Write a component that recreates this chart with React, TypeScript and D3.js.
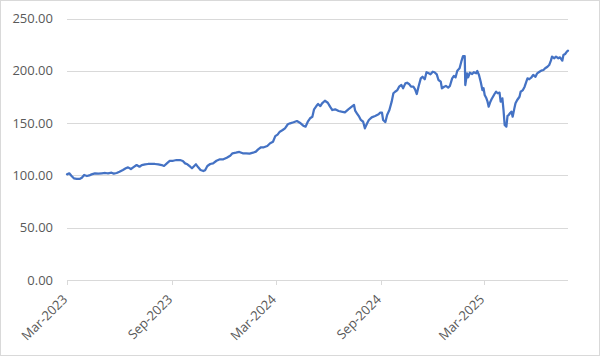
import React from "react";
import * as d3 from "d3";

const dates: string[] = [
  "2023-03-01","2023-03-05","2023-03-09","2023-03-13","2023-03-18","2023-03-23","2023-03-27","2023-03-31",
  "2023-04-05","2023-04-09","2023-04-13","2023-04-19","2023-04-25","2023-05-01","2023-05-07","2023-05-12",
  "2023-05-18","2023-05-22","2023-05-27","2023-06-01","2023-06-07","2023-06-12","2023-06-16","2023-06-21",
  "2023-06-25","2023-07-01","2023-07-06","2023-07-10","2023-07-16","2023-07-21","2023-07-27","2023-08-02",
  "2023-08-08","2023-08-14","2023-08-18","2023-08-23","2023-08-28","2023-09-03","2023-09-09","2023-09-15",
  "2023-09-20","2023-09-24","2023-09-28","2023-10-03","2023-10-06","2023-10-10","2023-10-13","2023-10-17",
  "2023-10-21","2023-10-26","2023-10-29","2023-11-02","2023-11-07","2023-11-12","2023-11-18","2023-11-24",
  "2023-11-30","2023-12-06","2023-12-12","2023-12-16","2023-12-22","2023-12-28","2024-01-03","2024-01-09",
  "2024-01-15","2024-01-21","2024-01-26","2024-01-30","2024-02-04","2024-02-09","2024-02-15","2024-02-20",
  "2024-02-25","2024-02-29","2024-03-04","2024-03-08","2024-03-13","2024-03-17","2024-03-22","2024-03-26",
  "2024-04-01","2024-04-07","2024-04-12","2024-04-18","2024-04-22","2024-04-26","2024-04-30","2024-05-04",
  "2024-05-07","2024-05-11","2024-05-14","2024-05-18","2024-05-21","2024-05-26","2024-05-31","2024-06-04",
  "2024-06-08","2024-06-13","2024-06-19","2024-06-24","2024-06-30","2024-07-06","2024-07-12","2024-07-16",
  "2024-07-18","2024-07-21","2024-07-25","2024-07-28","2024-08-01","2024-08-04","2024-08-08","2024-08-11",
  "2024-08-16","2024-08-22","2024-08-28","2024-08-31","2024-09-03","2024-09-05","2024-09-09","2024-09-12",
  "2024-09-16","2024-09-20","2024-09-23","2024-09-26","2024-09-30","2024-10-03","2024-10-07","2024-10-10",
  "2024-10-14","2024-10-17","2024-10-21","2024-10-24","2024-10-28","2024-10-31","2024-11-03","2024-11-06",
  "2024-11-10","2024-11-13","2024-11-17","2024-11-20","2024-11-24","2024-11-27","2024-12-01","2024-12-04",
  "2024-12-08","2024-12-11","2024-12-15","2024-12-17","2024-12-21","2024-12-24","2024-12-28","2024-12-31",
  "2025-01-04","2025-01-07","2025-01-10","2025-01-13","2025-01-17","2025-01-20","2025-01-23","2025-01-26",
  "2025-01-27","2025-01-30","2025-02-01","2025-02-04","2025-02-08","2025-02-11","2025-02-15","2025-02-17",
  "2025-02-20","2025-02-23","2025-02-26","2025-02-28","2025-03-02","2025-03-05","2025-03-07","2025-03-09",
  "2025-03-12","2025-03-14","2025-03-16","2025-03-20","2025-03-22","2025-03-25","2025-03-28","2025-03-30",
  "2025-04-02","2025-04-04","2025-04-06","2025-04-09","2025-04-11","2025-04-13","2025-04-16","2025-04-18",
  "2025-04-20","2025-04-23","2025-04-25","2025-04-28","2025-05-02","2025-05-04","2025-05-08","2025-05-11",
  "2025-05-14","2025-05-16","2025-05-19","2025-05-23","2025-05-26","2025-05-30","2025-06-02","2025-06-06",
  "2025-06-09","2025-06-13","2025-06-16","2025-06-20","2025-06-23","2025-06-26","2025-06-28","2025-07-02",
  "2025-07-05","2025-07-09","2025-07-12","2025-07-16","2025-07-18","2025-07-21","2025-07-24","2025-07-26",
];

const values: number[] = [
  101, 102, 99.4, 97.2, 96.6, 96.6, 97.8, 100.4,
  99.4, 100, 101, 102, 101.7, 102, 102.3, 102,
  102.6, 101.7, 102.3, 103.5, 105.2, 106.8, 107.7, 106.1,
  107.7, 109.9, 108.3, 109.9, 110.6, 110.9, 110.9, 110.9,
  110.6, 109.9, 109, 111.5, 113.8, 114, 114.7, 114.7,
  113.8, 111.5, 110.6, 108.3, 106.8, 109, 110.6, 107.7,
  105.2, 104.2, 105, 109, 110.9, 111.5, 114, 115.4,
  115.4, 116.9, 118.8, 121.1, 121.7, 122.4, 121.1, 121.1,
  120.8, 121.7, 122.7, 124.9, 126.9, 126.9, 128.1, 130.7,
  132.2, 137.5, 139, 141.8, 143.4, 145, 148.9, 149.8,
  150.8, 152, 150.4, 147.5, 146.6, 151.3, 154.6, 156.1,
  163.2, 166.3, 168.3, 166.3, 168.9, 171.4, 169.5, 165.7,
  162.5, 163.2, 161.6, 160.9, 160.3, 163.2, 165.7, 167.3,
  161.9, 159.4, 156.1, 153, 151.3, 145, 149.8, 153,
  155.5, 156.8, 158.4, 160, 159.9, 153, 151, 157.7,
  162.5, 170.5, 178.5, 180, 181.6, 184.8, 186.4, 183.3,
  188, 188.6, 187.1, 184.8, 184.8, 182.3, 177.8, 184.8,
  192.8, 194.3, 191.9, 198.6, 197.6, 196.6, 199.1, 198.6,
  196.6, 191.2, 189.6, 183.3, 184.8, 185.5, 183.9, 185.5,
  192.8, 195, 193.8, 200.1, 202.4, 208.7, 214.1, 214.1,
  186.4, 197.6, 193.8, 198.2, 196.9, 198.6, 197.6, 199.8,
  196, 189.6, 181.6, 183.3, 176.9, 173.7, 170.5, 165.7,
  170.5, 172.8, 174.7, 178.5, 180, 178.5, 179.1, 170.5,
  173.7, 162.5, 148.2, 146.6, 156.8, 157.7, 159.9, 160.9,
  156.1, 164.1, 168.9, 172.1, 175.2, 180, 181.6, 184.8,
  189.6, 192.8, 191.9, 193.8, 196, 194.3, 197.6, 199.1,
  200.1, 200.8, 202.4, 203.9, 205.5, 209.7, 213.5, 212,
  213.5, 212, 212.9, 209.7, 215.1, 216.1, 218.3, 219.2,
];

const yTicks: number[] = [0, 50, 100, 150, 200, 250];
const xTickDates: string[] = ["2023-03-01", "2023-09-01", "2024-03-01", "2024-09-01", "2025-03-01"];

const W = 600;
const H = 356;
const left = 67;
const right = 568;
const top = 18.5;
const bottom = 280;

export default function App() {
  const parse = d3.timeParse("%Y-%m-%d");
  const pts = dates.map((d, i) => ({ date: parse(d) as Date, value: values[i] }));
  const x = d3
    .scaleTime()
    .domain([pts[0].date, pts[pts.length - 1].date])
    .range([left, right]);
  const y = d3.scaleLinear().domain([0, 250]).range([bottom, top]);
  const line = d3
    .line<{ date: Date; value: number }>()
    .x((d) => x(d.date))
    .y((d) => y(d.value));
  const fmtY = d3.format(".2f");
  const fmtX = d3.timeFormat("%b-%Y");
  const font = "'Open Sans', 'Noto Sans', sans-serif";

  return (
    <svg
      width={W}
      height={H}
      style={{ position: "fixed", left: 0, top: 0, background: "#fff" }}
    >
      <rect x={0.5} y={0.5} width={W - 1} height={H - 1} fill="#fff" stroke="#d9d9d9" />
      {yTicks.map((t) => (
        <g key={t}>
          <line
            x1={left}
            x2={right}
            y1={Math.round(y(t)) + 0.5}
            y2={Math.round(y(t)) + 0.5}
            stroke="#d9d9d9"
            strokeWidth={1}
          />
          <text
            x={53}
            y={y(t)}
            dy="0.36em"
            textAnchor="end"
            fontFamily={font}
            fontSize={13}
            fill="#595959"
          >
            {fmtY(t)}
          </text>
        </g>
      ))}
      {xTickDates.map((s) => {
        const d = parse(s) as Date;
        const xp = Math.round(x(d)) + 0.5;
        return (
          <g key={s}>
            <line x1={xp} x2={xp} y1={bottom} y2={bottom + 5} stroke="#d9d9d9" />
            <text
              transform={`translate(${x(d) - 2},${bottom + 17}) rotate(-45)`}
              textAnchor="end"
              dy="0.35em"
              fontFamily={font}
              fontSize={13}
              fill="#595959"
            >
              {fmtX(d)}
            </text>
          </g>
        );
      })}
      <path
        d={line(pts) || ""}
        fill="none"
        stroke="#4472C4"
        strokeWidth={2.25}
        strokeLinejoin="round"
        strokeLinecap="round"
      />
    </svg>
  );
}
